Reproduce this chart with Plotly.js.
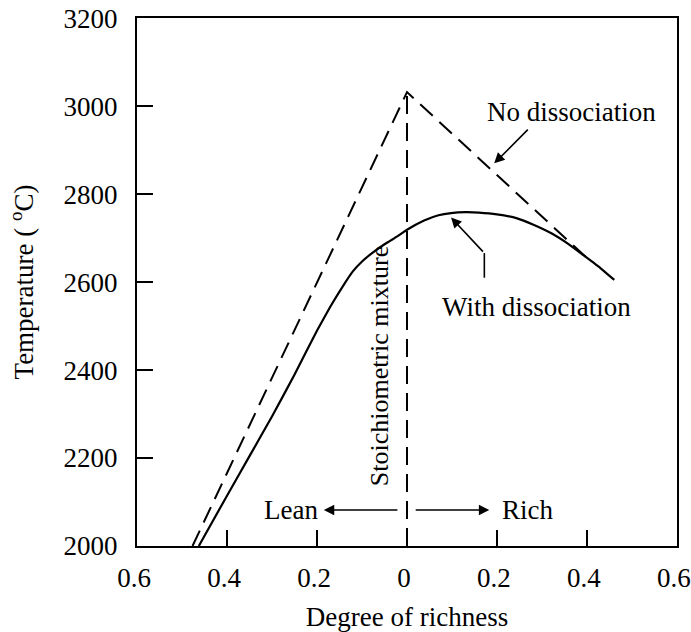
<!DOCTYPE html>
<html>
<head>
<meta charset="utf-8">
<script src="https://cdn.plot.ly/plotly-3.0.1.min.js"></script>
<style>html,body{margin:0;padding:0;background:#fff;}#chart{width:691px;height:632px;}</style>
</head>
<body>
<div id="chart"></div>
<script>
// Degree of richness (negative = lean side, positive = rich side)
var noDissX = [-0.477, 0, 0.40];
var noDissT = [2000, 3032, 2655];

var withDissX = [-0.463, -0.40, -0.35, -0.30, -0.25, -0.20, -0.17, -0.14, -0.12, -0.10, -0.08, -0.05, -0.02, 0, 0.038, 0.07, 0.098, 0.13, 0.16, 0.20, 0.245, 0.28, 0.321, 0.36, 0.394, 0.43, 0.461];
var withDissT = [2000, 2115, 2205, 2295, 2390, 2490, 2545, 2595, 2625, 2647, 2664, 2686, 2705, 2719, 2740, 2752, 2757, 2759, 2758, 2754, 2745, 2731, 2711, 2686, 2660, 2632, 2605];

var stoichX = [0, 0];
var stoichT = [2000, 3032];

var xTickVals = [-0.6, -0.4, -0.2, 0, 0.2, 0.4, 0.6];
var xTickText = ['0.6', '0.4', '0.2', '0', '0.2', '0.4', '0.6'];
var yTickVals = [2000, 2200, 2400, 2600, 2800, 3000, 3200];

var serif = 'Liberation Serif, Times New Roman, serif';
var fs = 27;

var traces = [
  {x: noDissX, y: noDissT, mode: 'lines', name: 'No dissociation',
   line: {color: '#000', width: 2, dash: '17px,9px'}, hoverinfo: 'skip'},
  {x: withDissX, y: withDissT, mode: 'lines', name: 'With dissociation',
   line: {color: '#000', width: 2.2, shape: 'spline', smoothing: 0.4}, hoverinfo: 'skip'},
  {x: stoichX, y: stoichT, mode: 'lines', name: 'Stoichiometric mixture',
   line: {color: '#000', width: 2, dash: '18px,9px'}, hoverinfo: 'skip'}
];

var arrowBase = {showarrow: true, arrowhead: 2, arrowsize: 1.3, arrowwidth: 1.6, arrowcolor: '#000',
  axref: 'x', ayref: 'y', xref: 'x', yref: 'y', text: ''};

var layout = {
  width: 691, height: 632,
  margin: {l: 137, r: 14, t: 18, b: 86},
  paper_bgcolor: '#fff', plot_bgcolor: '#fff',
  showlegend: false,
  font: {family: serif, size: fs, color: '#000'},
  xaxis: {
    range: [-0.6005, 0.6005], tickvals: xTickVals, ticktext: xTickText,
    ticks: 'inside', ticklen: 16, tickwidth: 2, tickcolor: '#000',
    showline: true, linewidth: 2, linecolor: '#000', mirror: true,
    showgrid: false, zeroline: false,
    tickfont: {family: serif, size: fs},
    ticklabelstandoff: 7, ticklabelshift: -3, ticklabeloverflow: 'allow',
    title: {text: 'Degree of richness', font: {family: serif, size: fs}, standoff: 16}
  },
  yaxis: {
    range: [2000, 3200.5], tickvals: yTickVals,
    ticks: 'inside', ticklen: 16, tickwidth: 2, tickcolor: '#000',
    showline: true, linewidth: 2, linecolor: '#000', mirror: true,
    showgrid: false, zeroline: false,
    tickfont: {family: serif, size: fs},
    ticklabelstandoff: 12, ticklabeloverflow: 'allow',
    title: {text: 'Temperature ( <sup>o</sup>C)', font: {family: serif, size: fs}, standoff: 22}
  },
  annotations: [
    {x: 0.365, y: 2986, xref: 'x', yref: 'y', text: 'No dissociation', showarrow: false,
     font: {family: serif, size: fs}},
    Object.assign({}, arrowBase, {x: 0.194, y: 2870, ax: 0.272, ay: 2950}),
    {x: 0.288, y: 2543, xref: 'x', yref: 'y', text: 'With dissociation', showarrow: false,
     font: {family: serif, size: fs}},
    Object.assign({}, arrowBase, {x: 0.098, y: 2747, ax: 0.172, ay: 2666}),
    {x: -0.062, y: 2409, xref: 'x', yref: 'y', text: 'Stoichiometric mixture', showarrow: false,
     textangle: -90, font: {family: serif, size: 26}},
    {x: -0.258, y: 2082, xref: 'x', yref: 'y', text: 'Lean', showarrow: false,
     font: {family: serif, size: fs}},
    Object.assign({}, arrowBase, {x: -0.185, y: 2082, ax: -0.018, ay: 2082}),
    {x: 0.267, y: 2082, xref: 'x', yref: 'y', text: 'Rich', showarrow: false,
     font: {family: serif, size: fs}},
    Object.assign({}, arrowBase, {x: 0.183, y: 2082, ax: 0.016, ay: 2082})
  ],
  shapes: [
    {type: 'line', xref: 'x', yref: 'y', x0: 0.172, x1: 0.172, y0: 2610, y1: 2666,
     line: {color: '#000', width: 1.6}}
  ]
};

Plotly.newPlot('chart', traces, layout, {staticPlot: true, displayModeBar: false});
</script>
</body>
</html>
